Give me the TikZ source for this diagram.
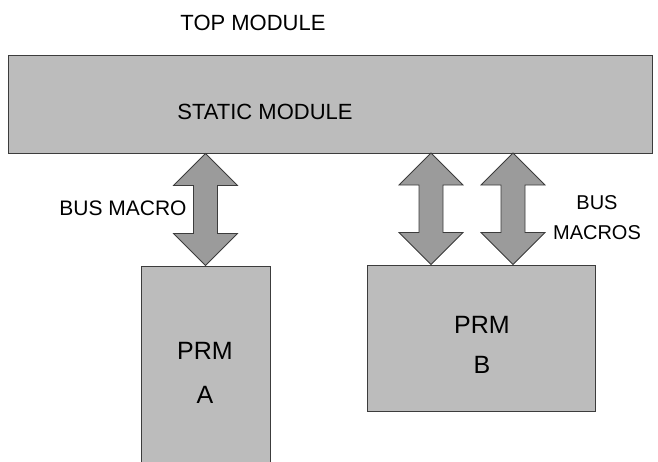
\documentclass[tikz,border=0pt]{standalone}
\usepackage{fontspec}
\setmainfont{Liberation Sans}
\usepackage{xcolor}
\usetikzlibrary{positioning,calc}

\definecolor{boxgray}{RGB}{188,188,188}
\definecolor{busgray}{RGB}{155,155,155}
\definecolor{edgegray}{RGB}{60,60,60}

\tikzset{
  module/.style={draw=edgegray, fill=boxgray, line width=0.9pt, inner sep=0pt},
  bus/.style={draw=edgegray, fill=busgray, line width=0.8pt, line join=miter},
  lbl/.style={text=black, align=center, inner sep=0pt},
}

\begin{document}
\begin{tikzpicture}[x=1pt,y=-1pt]
  \useasboundingbox (0,0) rectangle (658,461);
  % modules
  \node[module, minimum width=644, minimum height=98] (static) at (330,104) {};
  \node[module, minimum width=129, minimum height=205] (prmA) at (205.5,368.5) {};
  \node[module, minimum width=228, minimum height=146] (prmB) at (481,338) {};
  % texts
  \node[lbl, font=\fontsize{22}{26}\selectfont] (top) at (253,23) {TOP MODULE};
  \node[lbl, font=\fontsize{22}{26}\selectfont] (statictext) at (265,112) {STATIC MODULE};
  \node[lbl, font=\fontsize{25}{44}\selectfont] (prmAtext) at (205,373) {PRM\\A};
  \node[lbl, font=\fontsize{25}{40}\selectfont] (prmBtext) at (482,345) {PRM\\B};
  \node[lbl, font=\fontsize{21}{26}\selectfont] (busA) at (123,208) {BUS MACRO};
  \node[lbl, font=\fontsize{20}{30}\selectfont] (busB) at (597,218) {BUS\\MACROS};
  % bus macros
  \coordinate (ta) at (static.south -| prmA.north);
  \coordinate (ba) at (prmA.north);
  \coordinate (tb) at (431,153);
  \coordinate (bb) at (tb |- prmB.north);
  \coordinate (tc) at (513,153);
  \coordinate (bc) at (tc |- prmB.north);
  \foreach \t/\b in {ta/ba, tb/bb, tc/bc}
    \draw[bus] (\t) -- ++(32,32) -- ++(-20,0) -- ($(\b)+(12,-32)$) -- ++(20,0)
      -- (\b) -- ++(-32,-32) -- ++(20,0) -- ($(\t)+(-12,32)$) -- ++(-20,0) -- cycle;
\end{tikzpicture}
\end{document}
